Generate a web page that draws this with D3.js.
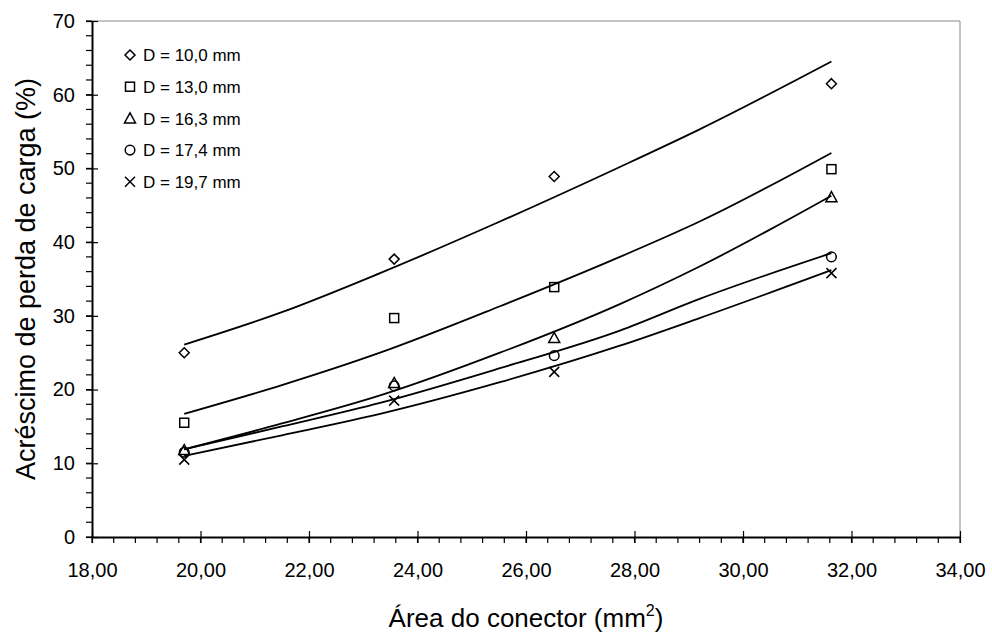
<!DOCTYPE html>
<html>
<head>
<meta charset="utf-8">
<script src="https://cdn.jsdelivr.net/npm/d3@7"></script>
<style>
  html, body { margin: 0; padding: 0; background: #fff; }
  svg { display: block; font-family: "Liberation Sans", Arial, sans-serif; }
</style>
</head>
<body>
<svg id="chart"></svg>
<script>
const width = 992;
const height = 635;

// Measured points (area in mm2, increase in head loss %)
const areas = [19.7, 23.57, 26.52, 31.63];
const seriesNames = ["D = 10,0 mm", "D = 13,0 mm", "D = 16,3 mm", "D = 17,4 mm", "D = 19,7 mm"];
const symbols = ["diamond", "square", "triangle", "circle", "cross"];
const d100 = [25.0, 37.7, 48.9, 61.5];
const d130 = [15.5, 29.7, 33.9, 49.9];
const d163 = [11.8, 20.9, 27.0, 46.1];
const d174 = [11.5, 20.5, 24.6, 38.0];
const d197 = [10.5, 18.5, 22.4, 35.8];

// Trend curves
const trendX = [19.7, 21.5, 23.31, 25.52, 27.73, 29.2, 31.63];
const trend100 = [26.1, 30.5, 35.8, 42.8, 50.2, 55.3, 64.5];
const trend130 = [16.7, 20.6, 25.0, 31.3, 38.0, 42.8, 52.1];
const trend163 = [11.9, 15.4, 19.2, 25.0, 31.6, 36.7, 46.3];
const trend174 = [11.9, 15.0, 18.2, 22.9, 28.0, 32.3, 38.5];
const trend197 = [11.0, 13.8, 16.7, 21.0, 25.95, 29.7, 36.2];

const pointSets = [d100, d130, d163, d174, d197];
const trendSets = [trend100, trend130, trend163, trend174, trend197];

const margin = {top: 21, right: 32, bottom: 98, left: 92};

const svg = d3.select("#chart")
    .attr("width", width)
    .attr("height", height);

const x = d3.scaleLinear().domain([18, 34]).range([margin.left, width - margin.right]);
const y = d3.scaleLinear().domain([0, 70]).range([height - margin.bottom, margin.top]);

const locale = d3.formatLocale({decimal: ",", thousands: ".", grouping: [3], currency: ["", ""]});
const fmtX = locale.format(".2f");

// top and right border of the plot area
svg.append("path")
    .attr("d", `M${x(18)},${y(70)}H${x(34)}V${y(0)}`)
    .attr("fill", "none")
    .attr("stroke", "#888")
    .attr("stroke-width", 1);

// minor ticks
const xMinor = d3.range(18, 34.001, 0.4);
svg.append("g").selectAll("line").data(xMinor).join("line")
    .attr("x1", d => x(d)).attr("x2", d => x(d))
    .attr("y1", y(0)).attr("y2", y(0) + 6)
    .attr("stroke", "#000").attr("stroke-width", 1.2);
const yMinor = d3.range(0, 70.001, 2);
svg.append("g").selectAll("line").data(yMinor).join("line")
    .attr("x1", x(18) - 6).attr("x2", x(18))
    .attr("y1", d => y(d)).attr("y2", d => y(d))
    .attr("stroke", "#000").attr("stroke-width", 1.2);

// x axis
const xAxis = svg.append("g")
    .attr("transform", `translate(0,${y(0)})`)
    .call(d3.axisBottom(x).tickValues(d3.range(18, 34.001, 2)).tickFormat(fmtX).tickSize(6).tickSizeOuter(0));
xAxis.select(".domain").attr("stroke-width", 2);
xAxis.selectAll(".tick line").attr("y1", -6).attr("stroke-width", 1.2);
xAxis.selectAll(".tick text")
    .attr("y", 26)
    .attr("dy", "0.71em")
    .attr("font-size", 20)
    .attr("fill", "#000")
    .attr("font-family", "Liberation Sans, Arial, sans-serif");

// y axis
const yAxis = svg.append("g")
    .attr("transform", `translate(${x(18)},0)`)
    .call(d3.axisLeft(y).tickValues(d3.range(0, 70.001, 10)).tickSize(6).tickSizeOuter(0));
yAxis.select(".domain").attr("stroke-width", 2);
yAxis.selectAll(".tick line").attr("x1", 6).attr("x2", -6).attr("stroke-width", 1.2);
yAxis.selectAll(".tick text")
    .attr("x", -17)
    .attr("font-size", 20)
    .attr("fill", "#000")
    .attr("font-family", "Liberation Sans, Arial, sans-serif");

// axis titles
const xTitle = svg.append("text")
    .attr("x", (x(18) + x(34)) / 2)
    .attr("y", 627)
    .attr("text-anchor", "middle")
    .attr("font-size", 26)
    .text("Área do conector (mm");
xTitle.append("tspan").attr("font-size", 16).attr("dy", -11).text("2");
xTitle.append("tspan").attr("dy", 11).text(")");

svg.append("text")
    .attr("transform", `translate(35,${(y(0) + y(70)) / 2}) rotate(-90)`)
    .attr("text-anchor", "middle")
    .attr("font-size", 27)
    .text("Acréscimo de perda de carga (%)");

// trend curves
const line = d3.line()
    .x((d, i) => x(trendX[i]))
    .y(d => y(d))
    .curve(d3.curveMonotoneX);

svg.append("g").selectAll("path").data(trendSets).join("path")
    .attr("d", line)
    .attr("fill", "none")
    .attr("stroke", "#000")
    .attr("stroke-width", 1.8);

// marker drawing
function drawMarker(g, type, cx, cy) {
    const s = 5;
    if (type === "diamond") {
        g.append("path").attr("d", `M${cx},${cy - s}L${cx + s},${cy}L${cx},${cy + s}L${cx - s},${cy}Z`);
    } else if (type === "square") {
        g.append("rect").attr("x", cx - 4.5).attr("y", cy - 4.5).attr("width", 9).attr("height", 9);
    } else if (type === "triangle") {
        g.append("path").attr("d", `M${cx},${cy - 5.5}L${cx + 5.5},${cy + 4.5}L${cx - 5.5},${cy + 4.5}Z`);
    } else if (type === "circle") {
        g.append("circle").attr("cx", cx).attr("cy", cy).attr("r", 4.8);
    } else {
        g.append("path").attr("d", `M${cx - s},${cy - s}L${cx + s},${cy + s}M${cx + s},${cy - s}L${cx - s},${cy + s}`);
    }
}

const marks = svg.append("g")
    .attr("fill", "none")
    .attr("stroke", "#000")
    .attr("stroke-width", 1.5);

pointSets.forEach((vals, k) => {
    vals.forEach((v, i) => drawMarker(marks, symbols[k], x(areas[i]), y(v)));
});

// legend
const legend = svg.append("g");
seriesNames.forEach((name, k) => {
    const ly = 55 + k * 31.7;
    const g = legend.append("g")
        .attr("fill", "none")
        .attr("stroke", "#000")
        .attr("stroke-width", 1.5);
    drawMarker(g, symbols[k], 130, ly);
    legend.append("text")
        .attr("x", 143)
        .attr("y", ly)
        .attr("dy", "0.36em")
        .attr("font-size", 17)
        .text(name);
});
</script>
</body>
</html>
